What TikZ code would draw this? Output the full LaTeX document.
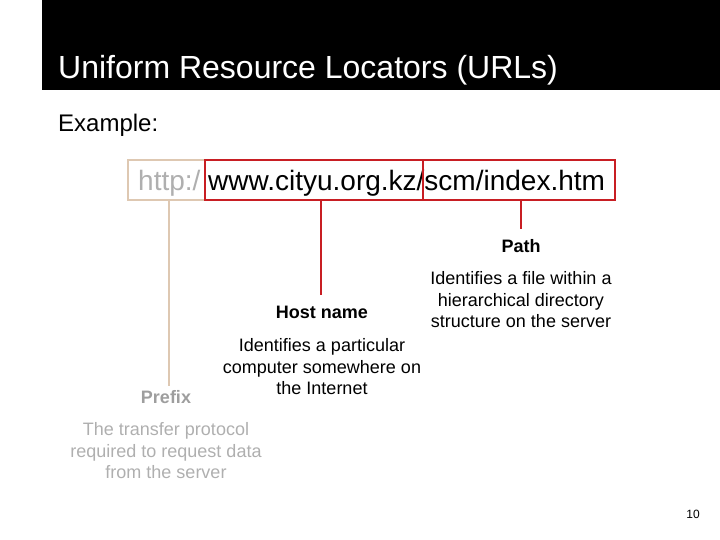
\documentclass[tikz,border=0pt]{standalone}
\usepackage{fontspec}
\setmainfont{Liberation Sans}
\definecolor{tan}{RGB}{222,200,178}
\definecolor{redb}{RGB}{200,30,35}
\definecolor{lgray}{RGB}{175,175,175}
\begin{document}
\begin{tikzpicture}[x=1pt,y=-1pt,
  lbl/.style={font=\fontsize{18}{21}\selectfont\bfseries,inner sep=0pt},
  desc/.style={font=\fontsize{18}{21.5}\selectfont,align=center,inner sep=0pt}]
\useasboundingbox (0,0) rectangle (720,540);
\fill[black] (42,0) rectangle (720,90);
\node[anchor=base west,text=white,font=\fontsize{32}{36}\selectfont,inner sep=0pt] (title) at (58,79) {Uniform Resource Locators (URLs)};
\node[anchor=base west,font=\fontsize{24}{28}\selectfont,inner sep=0pt] (ex) at (58,132) {Example:};
\draw[tan,line width=2.5pt] (128,160) rectangle (615,200);
\node[anchor=base west,text=lgray,font=\fontsize{28}{32}\selectfont,inner sep=0pt] (http) at (138,191) {http:/};
\node[anchor=base west,font=\fontsize{28}{32}\selectfont,inner sep=0pt] (url) at (208,191) {www.cityu.org.kz/scm/index.htm};
\draw[redb,line width=2.5pt] (205,160) rectangle (423,200);
\draw[redb,line width=2.5pt] (423,160) rectangle (615,200);
\coordinate (pt) at (169,200); \coordinate (ht) at (321,200); \coordinate (at) at (521,200);
\node[lbl] (path) at (521,246) {Path};
\node[desc] (pathd) at (521,300) {Identifies a file within a\\hierarchical directory\\structure on the server};
\node[lbl] (host) at (322,312) {Host name};
\node[desc] (hostd) at (322,367) {Identifies a particular\\computer somewhere on\\the Internet};
\node[lbl,text=lgray!90!black] (pre) at (166,397) {Prefix};
\node[desc,text=lgray] (pred) at (166,451) {The transfer protocol\\required to request data\\from the server};
\draw[tan,line width=2.5pt] (pt) -- (169,386);
\draw[redb,line width=2.5pt] (ht) -- (321,295);
\draw[redb,line width=2.5pt] (at) -- (521,229);
\node[font=\fontsize{12}{14}\selectfont] (pg) at (693,514) {10};
\end{tikzpicture}
\end{document}
